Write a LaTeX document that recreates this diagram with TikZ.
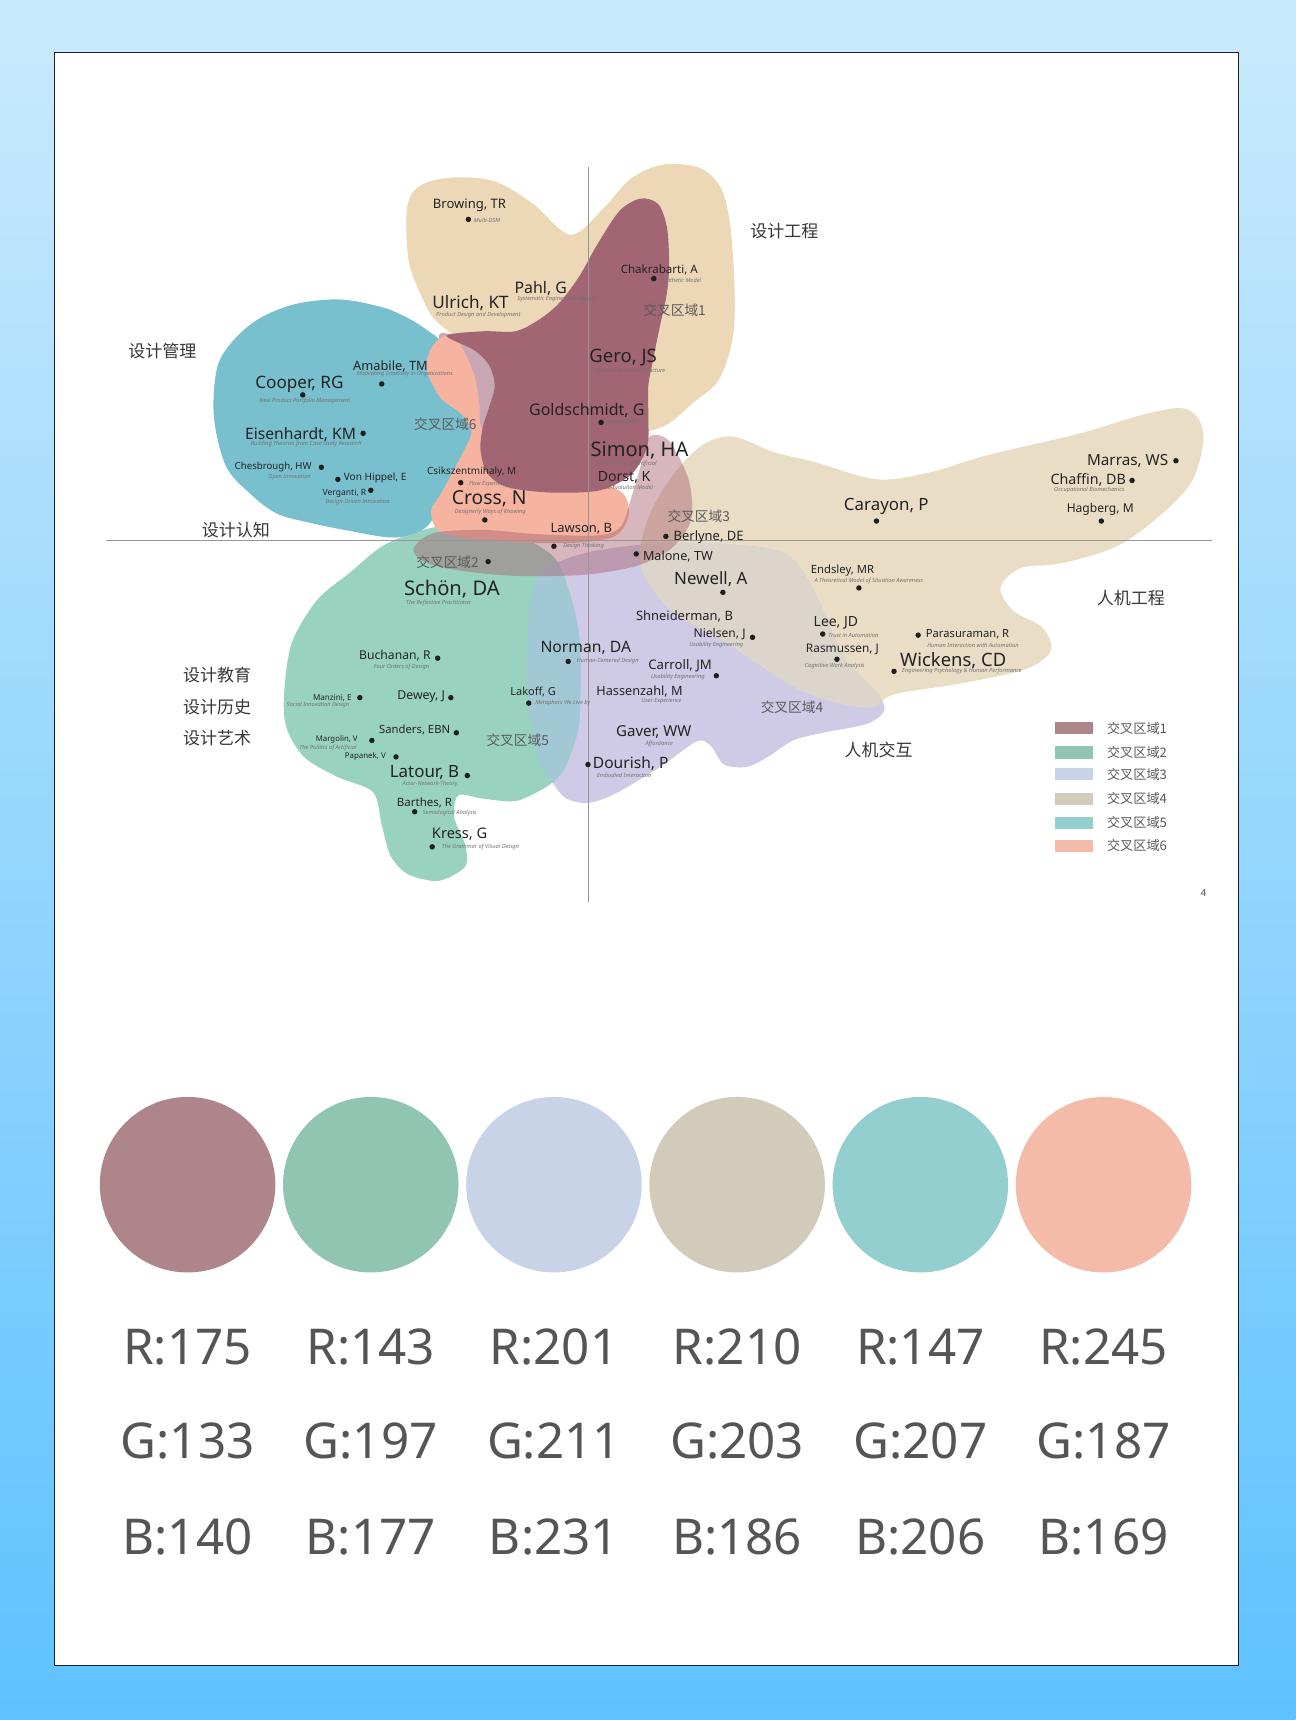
\documentclass[tikz,border=0pt]{standalone}
\usepackage{fontspec}
\setmainfont{Noto Sans}
\newfontfamily\cjk{Noto Sans CJK SC}
\definecolor{bgtop}{RGB}{202,234,252}
\definecolor{bgbot}{RGB}{94,194,255}
\definecolor{tanT}{RGB}{236,216,183}
\definecolor{tanR}{RGB}{233,221,197}
\definecolor{tealB}{RGB}{120,192,205}
\definecolor{greenB}{RGB}{153,211,192}
\definecolor{lavB}{RGB}{207,202,230}
\definecolor{tealgreen}{RGB}{128,192,196}
\definecolor{greenlav}{RGB}{162,200,214}
\definecolor{tanlav}{RGB}{219,213,204}
\definecolor{lensC}{RGB}{200,166,180}
\definecolor{salmonB}{RGB}{246,179,160}
\definecolor{bandC}{RGB}{168,96,110}
\definecolor{maroonB}{RGB}{161,101,115}
\definecolor{p1}{RGB}{175,133,140}
\definecolor{p2}{RGB}{143,197,177}
\definecolor{p3}{RGB}{201,211,231}
\definecolor{p4}{RGB}{210,203,186}
\definecolor{p5}{RGB}{147,207,206}
\definecolor{p6}{RGB}{245,187,169}
\definecolor{nametext}{RGB}{35,35,35}
\definecolor{subtext}{RGB}{115,115,115}
\definecolor{labtext}{RGB}{55,55,55}
\definecolor{zonetext}{RGB}{90,90,90}
\definecolor{numtext}{RGB}{85,85,85}
\definecolor{axisC}{RGB}{150,150,150}
\definecolor{frameC}{RGB}{30,30,45}
\newcommand\nmA[5]{\node[nm,font=\fontsize{#4}{#4}\selectfont] (#1) at (#2,#3) {#5};}
\newcommand\nmB[5]{\node[nm,font=\fontsize{#4}{#4}\selectfont\bfseries] (#1) at (#2,#3) {#5};}
\newcommand\sbA[4]{\node[sb] (#1) at (#2,#3) {#4};}
\newcommand\dtA[3]{\node[dt] (#1) at (#2,#3) {};}
\def\pTanT{plot[smooth cycle,tension=0.55] coordinates {(371,190) (382,170) (410,162) (450,165) (485,185) (520,214) (550,190) (575,163) (605,150) (640,154) (660,178) (668,230) (669,300) (656,345) (632,367) (606,388) (570,395) (520,375) (470,340) (430,318) (410,303) (397,292) (388,278) (373,240)}}
\def\pTeal{plot[smooth cycle,tension=0.55] coordinates {(198,335) (213,310) (237,290) (270,277) (310,273) (348,280) (370,289) (388,300) (404,314) (422,350) (436,383) (420,420) (403,456) (388,481) (360,490) (319,484) (280,476) (252,468) (228,450) (206,425) (195,380)}}
\def\pTanR{plot[smooth cycle,tension=0.55] coordinates {(640,406) (668,398) (705,412) (742,421) (800,437) (850,430) (900,415) (985,395) (1046,377) (1082,373) (1097,395) (1088,436) (1062,466) (1020,497) (970,513) (930,518) (912,536) (924,557) (950,572) (958,593) (935,610) (876,623) (815,633) (795,645) (760,640) (723,626) (663,587) (611,556) (584,516) (590,475) (612,435)}}
\def\pLav{plot[smooth cycle,tension=0.5] coordinates {(484,545) (495,520) (530,505) (580,497) (640,495) (700,500) (725,512) (745,545) (770,600) (800,632) (806,648) (790,660) (750,668) (723,675) (700,690) (681,699) (660,697) (648,680) (635,676) (602,699) (560,724) (535,732) (515,727) (500,708) (490,690) (481,632) (481,580)}}
\def\pGreen{plot[smooth cycle,tension=0.5] coordinates {(319,522) (350,497) (390,482) (430,478) (470,487) (505,508) (519,540) (528,580) (529,630) (527,665) (515,700) (500,716) (471,730) (440,728) (418,725) (414,745) (424,770) (424,790) (400,803) (372,797) (356,780) (348,752) (340,722) (307,708) (277,690) (261,663) (259,632) (266,586) (289,547)}}
\def\pLens{plot[smooth cycle,tension=0.55] coordinates {(400,307) (425,309) (455,318) (470,340) (468,380) (450,398) (432,398) (428,360)}}
\def\pSalmon{plot[smooth cycle,tension=0.5] coordinates {(398,311) (412,305) (424,322) (433,344) (437,368) (440,392) (470,425) (540,438) (568,450) (573,470) (560,489) (520,495) (460,494) (420,490) (398,482) (393,465) (402,450) (415,426) (429,398) (428,389) (420,377) (401,362) (389,338) (391,322)}}
\def\pBand{plot[smooth cycle,tension=0.5] coordinates {(377,500) (395,486) (440,483) (490,487) (545,488) (566,480) (576,452) (584,425) (592,398) (610,402) (628,438) (630,474) (612,500) (580,516) (532,524) (470,525) (418,520) (386,512)}}
\def\pMaroon{plot[smooth cycle,tension=0.5] coordinates {(584,181) (600,186) (608,207) (610,240) (608,267) (601,300) (595,330) (591,352) (591,380) (590,407) (576,432) (547,447) (502,449) (462,444) (444,431) (438,410) (440,390) (446,371) (451,352) (446,333) (432,319) (407,306) (440,302) (470,302) (492,291) (510,276) (528,252) (545,222) (565,192)}}
\begin{document}
\begin{tikzpicture}[x=1pt,y=-1pt,
  nm/.style={inner sep=0, text=nametext},
  sb/.style={inner sep=0, text=subtext, font=\fontsize{5.2}{5.5}\selectfont\itshape},
  dt/.style={circle, fill=black!88, inner sep=0, minimum size=5},
  lab/.style={inner sep=0, text=labtext, font=\cjk\fontsize{15.5}{16}\selectfont},
  zone/.style={inner sep=0, text=zonetext, font=\cjk\fontsize{12.5}{13}\selectfont},
  leg/.style={inner sep=0, text=zonetext, font=\cjk\fontsize{12}{13}\selectfont, anchor=west},
  sw/.style={inner sep=0, minimum width=34, minimum height=11},
  pal/.style={circle, inner sep=0, minimum size=160},
  num/.style={inner sep=0, text=numtext, font=\fontsize{45}{46}\selectfont},
  axisln/.style={draw=axisC, line width=0.8}]
\useasboundingbox (0,0) rectangle (1181,1568);
\shade[top color=bgtop, bottom color=bgbot] (0,0) rectangle (1181,1568);
\draw[fill=white, draw=frameC, line width=1] (50,48) rectangle (1129,1518);
% blobs
\fill[tanT] \pTanT;
\fill[tealB] \pTeal;
\fill[tanR] \pTanR;
\fill[lavB] \pLav;
\fill[greenB] \pGreen;
\begin{scope}\clip \pTeal; \fill[tealgreen] \pGreen; \end{scope}
\begin{scope}\clip \pGreen; \fill[greenlav] \pLav; \end{scope}
\begin{scope}\clip \pTanR; \fill[tanlav] \pLav; \end{scope}
\fill[lensC] \pLens;
\fill[salmonB] \pSalmon;
\fill[bandC, fill opacity=0.45] \pBand;
\fill[maroonB] \pMaroon;
% axes
\coordinate (vtop) at (536,152);
\coordinate (vbot) at (536,822);
\coordinate (hleft) at (97,493);
\coordinate (hright) at (1105,493);
\draw[axisln] (vtop) -- (vbot);
\draw[axisln] (hleft) -- (hright);
% region labels
\node[lab] (labEng) at (715,211) {设计工程};
\node[lab] (labMgmt) at (148,320) {设计管理};
\node[lab] (labCog) at (215,483) {设计认知};
\node[lab] (labEdu) at (198,615) {设计教育};
\node[lab] (labHist) at (198,645) {设计历史};
\node[lab] (labArt) at (198,673) {设计艺术};
\node[lab] (labHCI) at (801,684) {人机交互};
\node[lab] (labErg) at (1031,545) {人机工程};
\node[zone] (zone1) at (615,283) {交叉区域1};
\node[zone] (zone2) at (408,513) {交叉区域2};
\node[zone] (zone3) at (637,471) {交叉区域3};
\node[zone] (zone4) at (722,645) {交叉区域4};
\node[zone] (zone5) at (472,675) {交叉区域5};
\node[zone] (zone6) at (406,387) {交叉区域6};
% top
\nmA{browing}{428}{187}{11.9}{Browing, TR} \dtA{browingD}{427}{200} \sbA{browingS}{444}{201}{Multi-DSM}
\nmA{ulrich}{429}{276}{15.6}{Ulrich, KT} \sbA{ulrichS}{436}{287}{Product Design and Development}
\nmA{pahl}{493}{263}{14.5}{Pahl, G} \sbA{pahlS}{507}{273}{Systematic Engineering Design}
\nmA{chakra}{601}{246}{10.5}{Chakrabarti, A} \dtA{chakraD}{596}{254} \sbA{chakraS}{621}{256}{Synthetic Model}
\nmA{gero}{568}{326}{16.9}{Gero, JS} \sbA{geroS}{574}{338}{Function-Behavior-Structure}
\nmA{gold}{535}{374}{14.6}{Goldschmidt, G} \dtA{goldD}{548}{385} \sbA{goldS}{567}{385}{Linkography}
\nmA{simon}{583}{411}{18.3}{Simon, HA} \sbA{simonS}{571}{423}{The Sciences of Artificial}
\nmA{dorst}{569}{435}{12.8}{Dorst, K} \sbA{dorstS}{573}{444}{Co-Evolution Model}
\nmA{lawson}{530}{482}{11.8}{Lawson, B} \dtA{lawsonD}{505}{498} \sbA{lawsonS}{532}{498}{Design Thinking}
% teal
\nmA{amabile}{356}{334}{11.7}{Amabile, TM} \sbA{amabileS}{369}{341}{Motivating Creativity in Organizations} \dtA{amabileD}{348}{350}
\nmA{cooper}{273}{350}{15.6}{Cooper, RG} \dtA{cooperD}{276}{360} \sbA{cooperS}{278}{366}{New Product Portfolio Management}
\nmA{eisen}{274}{396}{14.3}{Eisenhardt, KM} \dtA{eisenD}{331}{395} \sbA{eisenS}{279}{405}{Building Theories from Case Study Research}
\nmA{ches}{249}{426}{8.8}{Chesbrough, HW} \dtA{chesD}{293}{426} \sbA{chesS}{264}{435}{Open Innovation}
\dtA{hippelD}{308}{437} \nmA{hippel}{342}{436}{9.2}{Von Hippel, E}
\nmA{verganti}{314}{450}{7.8}{Verganti, R} \dtA{vergantiD}{338}{447} \sbA{vergantiS}{326}{458}{Design-Driven Innovation}
\nmA{csik}{430}{430}{9.1}{Csikszentmihaly, M} \dtA{csikD}{420}{440} \sbA{csikS}{446}{441}{Flow Experience}
\nmA{cross}{446}{455}{17.6}{Cross, N} \sbA{crossS}{447}{467}{Designerly Ways of Knowing} \dtA{crossD}{442}{474}
% middle
\dtA{berlyneD}{607}{489} \nmA{berlyne}{646}{490}{11.8}{Berlyne, DE}
\dtA{maloneD}{580}{505} \nmA{malone}{618}{507}{11.5}{Malone, TW}
\dtA{zone2D}{445}{512}
\nmA{schon}{412}{537}{18.4}{Schön, DA} \sbA{schonS}{400}{550}{The Reflective Practitioner}
\nmA{newell}{648}{528}{15.4}{Newell, A} \dtA{newellD}{659}{540}
\nmA{shneid}{624}{562}{11.8}{Shneiderman, B}
\nmA{nielsen}{656}{578}{11}{Nielsen, J} \dtA{nielsenD}{686}{581} \sbA{nielsenS}{653}{588}{Usability Engineering}
\nmA{norman}{534}{591}{14.3}{Norman, DA} \dtA{normanD}{518}{603} \sbA{normanS}{554}{603}{Human-Centered Design}
\nmA{carroll}{620}{607}{12}{Carroll, JM} \dtA{carrollD}{653}{616} \sbA{carrollS}{618}{617}{Usability Engineering}
\nmA{hassen}{583}{630}{11.6}{Hassenzahl, M} \sbA{hassenS}{603}{639}{User Experience}
\nmA{lakoff}{486}{631}{10}{Lakoff, G} \dtA{lakoffD}{482}{641} \sbA{lakoffS}{513}{641}{Metaphors We Live by}
\nmA{gaver}{596}{667}{13.7}{Gaver, WW} \sbA{gaverS}{601}{678}{Affordance}
\dtA{dourishD}{536}{697} \nmA{dourish}{575}{696}{14.2}{Dourish, P} \sbA{dourishS}{569}{707}{Embodied Interaction}
% right
\nmA{carayon}{808}{462}{15.4}{Carayon, P} \dtA{carayonD}{799}{475}
\nmA{marras}{1028}{420}{13.9}{Marras, WS} \dtA{marrasD}{1072}{420}
\nmA{chaffin}{992}{438}{13}{Chaffin, DB} \dtA{chaffinD}{1032}{438} \sbA{chaffinS}{993}{447}{Occupational Biomechanics}
\nmA{hagberg}{1003}{464}{11}{Hagberg, M} \dtA{hagbergD}{1004}{475}
\nmA{endsley}{768}{520}{10.3}{Endsley, MR} \sbA{endsleyS}{792}{530}{A Theoretical Model of Situation Awareness} \dtA{endsleyD}{783}{536}
\nmA{lee}{762}{568}{12.7}{Lee, JD} \dtA{leeD}{750}{578} \sbA{leeS}{778}{579}{Trust in Automation}
\nmA{rasm}{768}{592}{10.8}{Rasmussen, J} \dtA{rasmD}{763}{601} \sbA{rasmS}{761}{607}{Cognitive Work Analysis}
\dtA{parasD}{837}{579} \nmA{paras}{882}{578}{10.2}{Parasuraman, R} \sbA{parasS}{887}{588}{Human Interaction with Automation}
\nmA{wickens}{869}{602}{16.8}{Wickens, CD} \dtA{wickensD}{815}{612} \sbA{wickensS}{877}{612}{Engineering Psychology \& Human Performance}
% green
\nmA{buchanan}{360}{598}{11.1}{Buchanan, R} \dtA{buchananD}{399}{600} \sbA{buchananS}{366}{608}{Four Orders of Design}
\nmB{manzini}{303}{636}{7.4}{Manzini, E} \dtA{manziniD}{328}{636} \sbA{manziniS}{290}{643}{Social Innovation Design}
\nmA{dewey}{384}{635}{11.2}{Dewey, J} \dtA{deweyD}{411}{636}
\nmA{sanders}{378}{665}{10.3}{Sanders, EBN} \dtA{sandersD}{416}{668}
\nmB{margolin}{307}{674}{7.1}{Margolin, V} \dtA{margolinD}{339}{675} \sbA{margolinS}{299}{682}{The Politics of Artificial}
\nmB{papanek}{333}{690}{7.2}{Papanek, V} \dtA{papanekD}{361}{690}
\nmA{latour}{387}{704}{15.4}{Latour, B} \dtA{latourD}{426}{707} \sbA{latourS}{392}{715}{Actor-Network-Theory}
\nmA{barthes}{387}{732}{10.5}{Barthes, R} \dtA{barthesD}{378}{740} \sbA{barthesS}{410}{741}{Semiological Analysis}
\nmA{kress}{419}{760}{13.3}{Kress, G} \dtA{kressD}{394}{772} \sbA{kressS}{438}{772}{The Grammar of Visual Design}
% legend
\node[sw, fill=p1] (sw1) at (979,664) {}; \node[leg] (lg1) at (1009,664) {交叉区域1};
\node[sw, fill=p2] (sw2) at (979,686) {}; \node[leg] (lg2) at (1009,686) {交叉区域2};
\node[sw, fill=p3] (sw3) at (979,706) {}; \node[leg] (lg3) at (1009,706) {交叉区域3};
\node[sw, fill=p4] (sw4) at (979,728) {}; \node[leg] (lg4) at (1009,728) {交叉区域4};
\node[sw, fill=p5] (sw5) at (979,750) {}; \node[leg] (lg5) at (1009,750) {交叉区域5};
\node[sw, fill=p6] (sw6) at (979,771) {}; \node[leg] (lg6) at (1009,771) {交叉区域6};
\node[inner sep=0, text=zonetext, font=\rmfamily\fontsize{9}{9}\selectfont] (pageno) at (1097,814) {4};
% palette
\node[pal, fill=p1] (c1) at (171,1080) {};
\node[pal, fill=p2] (c2) at (338,1080) {};
\node[pal, fill=p3] (c3) at (505,1080) {};
\node[pal, fill=p4] (c4) at (672,1080) {};
\node[pal, fill=p5] (c5) at (839,1080) {};
\node[pal, fill=p6] (c6) at (1006,1080) {};
\node[num] (r1) at (171,1228) {R:175}; \node[num] (g1) at (171,1314) {G:133}; \node[num] (b1) at (171,1401) {B:140};
\node[num] (r2) at (338,1228) {R:143}; \node[num] (g2) at (338,1314) {G:197}; \node[num] (b2) at (338,1401) {B:177};
\node[num] (r3) at (505,1228) {R:201}; \node[num] (g3) at (505,1314) {G:211}; \node[num] (b3) at (505,1401) {B:231};
\node[num] (r4) at (672,1228) {R:210}; \node[num] (g4) at (672,1314) {G:203}; \node[num] (b4) at (672,1401) {B:186};
\node[num] (r5) at (839,1228) {R:147}; \node[num] (g5) at (839,1314) {G:207}; \node[num] (b5) at (839,1401) {B:206};
\node[num] (r6) at (1006,1228) {R:245}; \node[num] (g6) at (1006,1314) {G:187}; \node[num] (b6) at (1006,1401) {B:169};
\end{tikzpicture}
\end{document}
